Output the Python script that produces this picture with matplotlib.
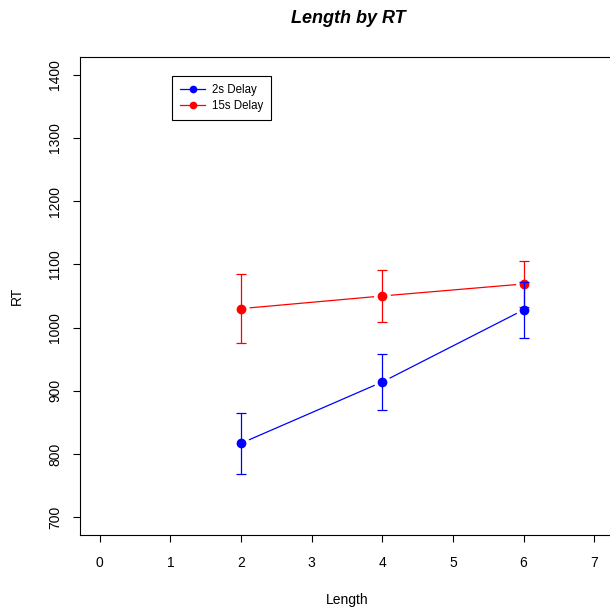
import matplotlib
matplotlib.use("Agg")
import matplotlib.pyplot as plt

plt.rcParams['font.family'] = ['Liberation Sans', 'DejaVu Sans']

# data
length = [2, 4, 6]
rt_2s = [817, 914, 1028]
err_2s = [48, 45, 44]
rt_15s = [1030, 1050, 1069]
err_15s = [54, 41, 37]

series = [("2s Delay", rt_2s, err_2s, "blue"),
          ("15s Delay", rt_15s, err_15s, "red")]

fig = plt.figure(figsize=(6.10, 6.08), dpi=100)
ax = fig.add_axes([0.1311, 0.1201, 0.8754, 0.7862])

# lines first, with a white halo so the line stops short of the points (like R type="b")
for name, y, e, col in series:
    ax.plot(length, y, color=col, lw=0.9, zorder=1)
    ax.plot(length, y, 'o', color='white', ms=11, zorder=2)

# red drawn first, blue on top (as in the original)
z = 3
for name, y, e, col in series[::-1]:
    ax.errorbar(length, y, yerr=e, fmt='none', ecolor=col, elinewidth=0.9,
                capsize=3.5, capthick=0.9, zorder=z)
    ax.plot(length, y, 'o', color=col, ms=6, zorder=z + 1)
    z += 2

ax.set_xlim(-0.28, 7.28)
ax.set_ylim(672, 1428)
ax.set_xticks(range(0, 8))
ax.set_yticks(range(700, 1401, 100))
ax.tick_params(axis='both', direction='out', length=5, width=0.8, labelsize=10)
ax.tick_params(axis='x', pad=10)
ax.tick_params(axis='y', pad=8)
for lab in ax.get_yticklabels():
    lab.set_rotation(90)
    lab.set_va('center')
for sp in ax.spines.values():
    sp.set_linewidth(0.8)

ax.set_xlabel("Length", fontsize=10, labelpad=17)
ax.set_ylabel("RT", fontsize=10, labelpad=17)
fig.text(0.5705, 0.970, "Length by RT", ha='center', va='center',
         fontsize=13, fontweight='bold', fontstyle='italic')

lines = []
for name, y, e, col in series:
    l, = ax.plot([], [], '-o', color=col, ms=4.5, lw=0.9)
    lines.append(l)
leg = ax.legend(lines, [s[0] for s in series], loc='upper left',
                bbox_to_anchor=(0.172, 0.96), fontsize=8.3, frameon=True,
                fancybox=False, edgecolor='black', framealpha=1,
                handlelength=2.2, borderpad=0.7, labelspacing=0.3,
                handletextpad=0.6, borderaxespad=0)
leg.get_frame().set_linewidth(0.8)

fig.savefig("out.png", dpi=100)
